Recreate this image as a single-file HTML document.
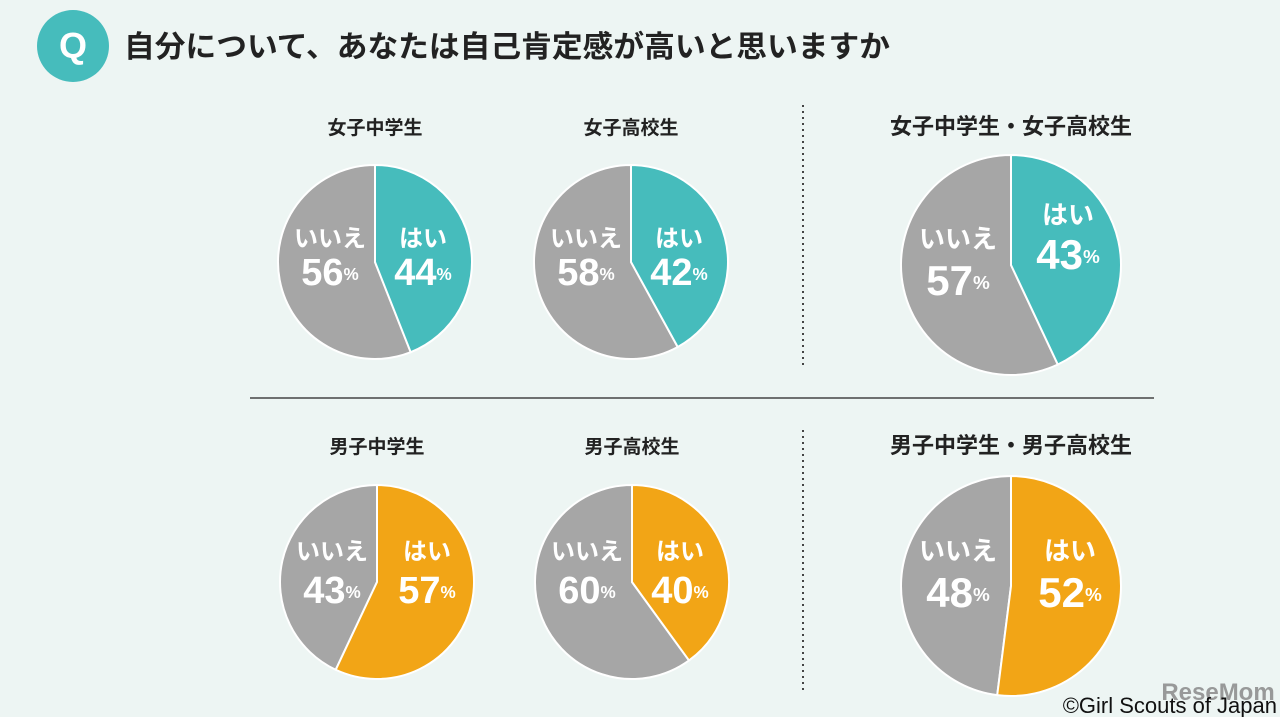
<!DOCTYPE html>
<html><head><meta charset="utf-8"><style>
html,body{margin:0;padding:0;width:1280px;height:717px;overflow:hidden;background:#edf5f3;font-family:"Liberation Sans","Noto Sans CJK JP",sans-serif;}
</style></head><body>
<svg id="c" width="1280" height="717" xmlns="http://www.w3.org/2000/svg" style="position:absolute;left:0;top:0">
<rect width="1280" height="717" fill="#edf5f3"/>
<g>
<circle cx="73" cy="46" r="36" fill="#46bcbc"/>
<text x="73" y="58" text-anchor="middle" font-size="36" font-weight="bold" fill="#fff" font-family="Liberation Sans, sans-serif">Q</text>
</g>
<text x="124" y="57" font-size="30" font-weight="bold" fill="#222" textLength="766" lengthAdjust="spacingAndGlyphs" font-family="Liberation Sans, Noto Sans CJK JP, sans-serif">自分について、あなたは自己肯定感が高いと思いますか</text>
<line x1="250" y1="398" x2="1154" y2="398" stroke="#444" stroke-width="1.5"/>
<line x1="803" y1="105" x2="803" y2="368" stroke="#444" stroke-width="2" stroke-dasharray="2,4"/>
<line x1="803" y1="430" x2="803" y2="690" stroke="#444" stroke-width="2" stroke-dasharray="2,4"/>
<text x="1218" y="700" text-anchor="middle" font-size="24" font-weight="bold" fill="#8a8a8a" opacity="0.85">ReseMom</text>
<text x="1277" y="713" text-anchor="end" font-size="22" fill="#111">©Girl Scouts of Japan</text>
<g id="pies"></g>
</svg>
<script>
const groups = ["女子中学生","女子高校生","女子中学生・女子高校生","男子中学生","男子高校生","男子中学生・男子高校生"];
const yesValues = [44,42,43,57,40,52];
const noValues = [56,58,57,43,60,48];
const yesColors = ["#46bcbc","#46bcbc","#46bcbc","#f2a516","#f2a516","#f2a516"];
// layout (not data)
const layout = [
 {cx:375,cy:262,r:97,ty:134,ts:19,yx:48,nx:-45,y1:-22,y2:10,big:false},
 {cx:631,cy:262,r:97,ty:134,ts:19,yx:48,nx:-45,y1:-22,y2:10,big:false},
 {cx:1011,cy:265,r:110,ty:133,ts:22,yx:57,nx:-53,y1:-48,y2:-10,ny1:-24,ny2:16,big:true},
 {cx:377,cy:582,r:97,ty:453,ts:19,yx:50,nx:-45,y1:-29,y2:8,big:false},
 {cx:632,cy:582,r:97,ty:453,ts:19,yx:48,nx:-45,y1:-29,y2:8,big:false},
 {cx:1011,cy:586,r:110,ty:452,ts:22,yx:59,nx:-53,y1:-33,y2:7,big:true}
];
const NS="http://www.w3.org/2000/svg";
const root=document.getElementById('pies');
function pt(cx,cy,r,frac){const a=frac*2*Math.PI;return [cx+r*Math.sin(a),cy-r*Math.cos(a)];}
function slice(cx,cy,r,f0,f1,fill){
 const p=document.createElementNS(NS,'path');
 const a=pt(cx,cy,r,f0),b=pt(cx,cy,r,f1);const large=(f1-f0)>0.5?1:0;
 p.setAttribute('d',`M${cx},${cy}L${a[0]},${a[1]}A${r},${r} 0 ${large} 1 ${b[0]},${b[1]}Z`);
 p.setAttribute('fill',fill);p.setAttribute('stroke','#fff');p.setAttribute('stroke-width','2');
 return p;}
function txt(x,y,s,size,fill,anchor){const t=document.createElementNS(NS,'text');t.setAttribute('x',x);t.setAttribute('y',y);t.setAttribute('font-size',size);t.setAttribute('font-weight','bold');t.setAttribute('fill',fill);t.setAttribute('text-anchor',anchor||'middle');t.setAttribute('dominant-baseline','middle');t.textContent=s;return t;}
function pctText(x,y,v,size){
 const t=document.createElementNS(NS,'text');t.setAttribute('x',x);t.setAttribute('y',y);t.setAttribute('text-anchor','middle');t.setAttribute('dominant-baseline','middle');t.setAttribute('font-weight','bold');t.setAttribute('fill','#fff');
 const a=document.createElementNS(NS,'tspan');a.setAttribute('font-size',size);a.textContent=v;
 const b=document.createElementNS(NS,'tspan');b.setAttribute('font-size',size*0.45);b.textContent='%';
 t.appendChild(a);t.appendChild(b);return t;}
groups.forEach((g,i)=>{
 const L=layout[i];const G=document.createElementNS(NS,'g');
 
 
 const tot=yesValues[i]+noValues[i];const fy=yesValues[i]/tot;
 const title=txt(L.cx,L.ty-5,g,L.ts,'#222');
 
 
 G.appendChild(title);
 const sn=slice(L.cx,L.cy,L.r,fy,1,'#a6a6a6');
 
 
 G.appendChild(sn);
 const sy=slice(L.cx,L.cy,L.r,0,fy,yesColors[i]);
 
 
 G.appendChild(sy);
 const ls=L.big?26:24, ns=L.big?42:38;
 const ny1=L.ny1!==undefined?L.ny1:L.y1, ny2=L.ny2!==undefined?L.ny2:L.y2;
 const a=txt(L.cx+L.yx,L.cy+L.y1,'はい',ls,'#fff');
 
 
 G.appendChild(a);
 const b=pctText(L.cx+L.yx,L.cy+L.y2+3,yesValues[i],ns);
 
 
 G.appendChild(b);
 const c=txt(L.cx+L.nx,L.cy+ny1,'いいえ',ls,'#fff');
 
 
 G.appendChild(c);
 const d=pctText(L.cx+L.nx,L.cy+ny2+3,noValues[i],ns);
 
 
 G.appendChild(d);
 root.appendChild(G);
});
</script>
</body></html>
